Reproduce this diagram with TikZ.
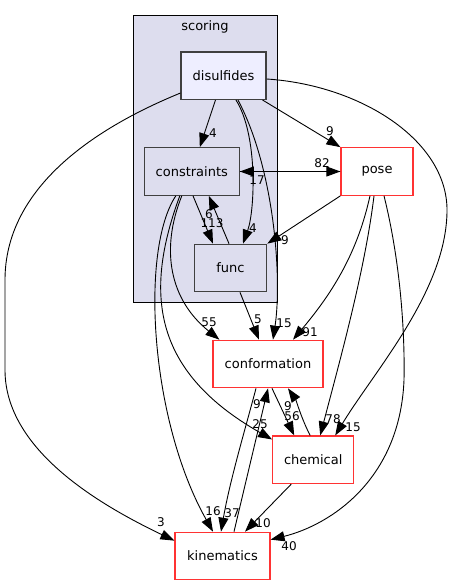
\documentclass[tikz,border=0pt]{standalone}
\usepackage{fontspec}
\setmainfont{DejaVu Sans}
\usetikzlibrary{calc,arrows.meta}

\definecolor{clusterfill}{HTML}{DDDDEE}
\definecolor{dirfill}{HTML}{EEEEFF}
\definecolor{dirborder}{HTML}{404040}
\definecolor{extborder}{HTML}{FF3333}

\tikzset{
  dir/.style={draw=dirborder, line width=1.2pt, fill=clusterfill, minimum height=47.5pt,
    inner sep=0pt, font=\fontsize{13}{15}\selectfont},
  curdir/.style={dir, fill=dirfill},
  extdir/.style={dir, draw=extborder, line width=1.2pt, fill=white},
  dep/.style={line width=0.9pt, -{Triangle[length=14pt,width=10pt]}},
  lbl/.style={inner sep=0pt, font=\fontsize{12}{14}\selectfont}
}

\begin{document}
\begin{tikzpicture}[x=1pt,y=-1pt]
    \useasboundingbox (0,0) rectangle (452,585);
    \draw[fill=clusterfill, line width=1pt] (133.3,15.7) rectangle (277,302.7);
    \node[inner sep=0pt, font=\fontsize{13}{15}\selectfont] (scoring) at (205,27) {scoring};

    \node[curdir, minimum width=85pt] (disulfides) at (223.5,75.7) {disulfides};
    \node[dir, minimum width=95pt] (constraints) at (191.8,171.5) {constraints};
    \node[dir, minimum width=72.5pt] (func) at (230.5,268) {func};
    \node[extdir, minimum width=72pt] (pose) at (377,171.5) {pose};
    \node[extdir, minimum width=110pt] (conformation) at (268,364) {conformation};
    \node[extdir, minimum width=81pt] (chemical) at (313.2,459.8) {chemical};
    \node[extdir, minimum width=95pt] (kinematics) at (222.5,556) {kinematics};

    \draw[dep] ([xshift=-8]disulfides.south) -- ([xshift=8]constraints.north);
    \draw[dep] ([xshift=12.5]disulfides.south) .. controls (258,135) and (255,210) .. ([xshift=12.5]func.north);
    \draw[dep] ([xshift=14.5]disulfides.south) .. controls (275,170) and (282,280) .. ([xshift=5]conformation.north);
    \draw[dep] ([xshift=-4]disulfides.south east) -- (pose.north west);
    \draw[dep] ([yshift=-3.3]disulfides.east) .. controls (360,85) and (447,140) .. (447,210)
      .. controls (447,290) and (375,370) .. ([xshift=22]chemical.north);
    \draw[dep] ([yshift=7]disulfides.south west) .. controls (90,130) and (5,190) .. (5,280) -- (5,370)
      .. controls (5,450) and (100,505) .. ([yshift=-9]kinematics.north west);
    \draw[dep] (constraints.east) -- (pose.west);
    \draw[dep] (pose.west) -- (constraints.east);
    \draw[dep] ([xshift=1.2]constraints.south) -- ([xshift=-17.5]func.north);
    \draw[dep] ([xshift=-1.5]func.north) -- ([xshift=17]constraints.south);
    \draw[dep] (pose.south west) -- (func.north east);
    \draw[dep] ([xshift=9.5]func.south) -- ([xshift=-9]conformation.north);
    \draw[dep] ([xshift=-10]constraints.south) .. controls (160,250) and (170,300) .. ([xshift=7]conformation.north west);
    \draw[dep] ([xshift=-12]constraints.south) .. controls (145,290) and (150,370) .. ([yshift=-4]chemical.north west);
    \draw[dep] ([xshift=-16]constraints.south) .. controls (140,250) and (150,420) .. ([xshift=-9.5]kinematics.north);
    \draw[dep] ([xshift=-7]pose.south) .. controls (358,250) and (335,290) .. ([xshift=25]conformation.north);
    \draw[dep] ([xshift=-3]pose.south) .. controls (365,270) and (340,360) .. ([xshift=7]chemical.north);
    \draw[dep] ([xshift=7]pose.south) .. controls (400,260) and (405,330) .. (404,380)
      .. controls (400,480) and (330,525) .. ([yshift=-8]kinematics.north east);
    \draw[dep] ([xshift=-12]conformation.south) .. controls (245,430) and (230,480) .. ([xshift=-1.5]kinematics.north);
    \draw[dep] ([xshift=11.5]kinematics.north) -- (conformation.south);
    \draw[dep] ([xshift=4]conformation.south) -- ([xshift=-19]chemical.north);
    \draw[dep] ([xshift=-3]chemical.north) .. controls (302,420) and (296,400) .. ([xshift=20]conformation.south);
    \draw[dep] ([xshift=-22]chemical.south) -- ([xshift=22.5]kinematics.north);

    \node[lbl] (l-dis-con) at (213,133) {4};
    \node[lbl] (l-dis-fun) at (253,228) {4};
    \node[lbl] (l-dis-cnf) at (284,323) {15};
    \node[lbl] (l-dis-pos) at (330,131) {9};
    \node[lbl] (l-dis-che) at (353,427) {15};
    \node[lbl] (l-dis-kin) at (161,522) {3};
    \node[lbl] (l-con-pos) at (322,163) {82};
    \node[lbl] (l-pos-con) at (257,180) {17};
    \node[lbl] (l-con-fun) at (212,223) {113};
    \node[lbl] (l-fun-con) at (209,214) {6};
    \node[lbl] (l-pos-fun) at (285,240) {9};
    \node[lbl] (l-fun-cnf) at (258,319) {5};
    \node[lbl] (l-con-cnf) at (209,322) {55};
    \node[lbl] (l-pos-cnf) at (310,332) {91};
    \node[lbl] (l-pos-che) at (333,419) {78};
    \node[lbl] (l-pos-kin) at (289,546) {40};
    \node[lbl] (l-con-che) at (260,424) {25};
    \node[lbl] (l-con-kin) at (213,511) {16};
    \node[lbl] (l-cnf-kin) at (257,404) {9};
    \node[lbl] (l-kin-cnf) at (232,513) {37};
    \node[lbl] (l-cnf-che) at (292,416) {56};
    \node[lbl] (l-che-cnf) at (288,406) {9};
    \node[lbl] (l-che-kin) at (263,523) {10};
  \end{tikzpicture}
\end{document}
